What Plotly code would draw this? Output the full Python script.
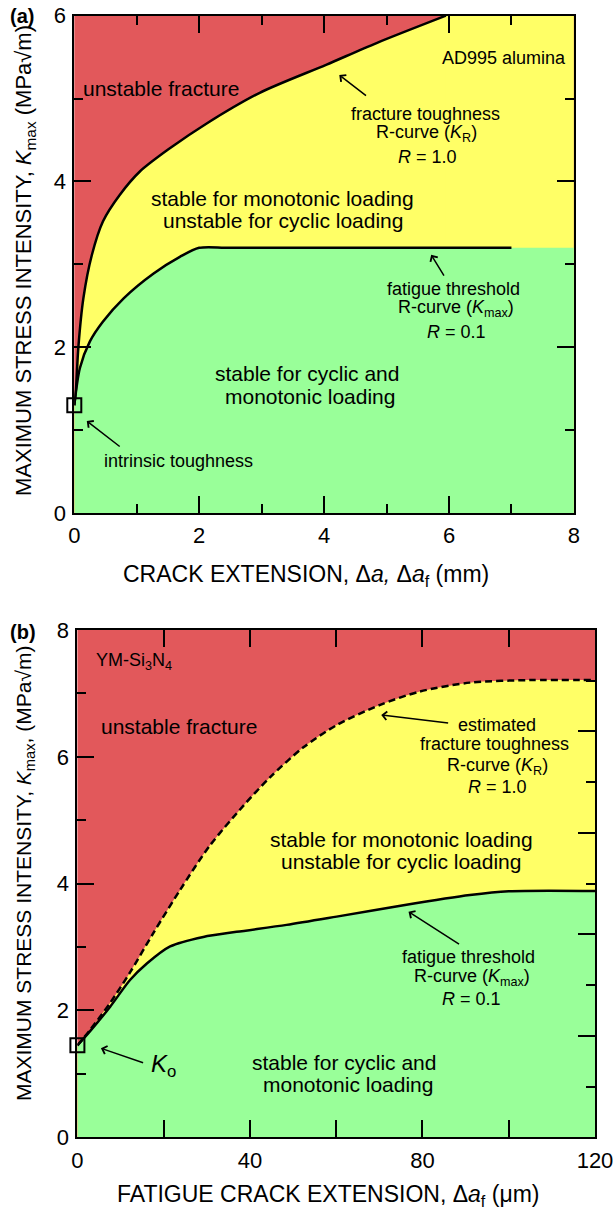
import plotly.graph_objects as go

# ---------------- data ----------------
# Panel (a): AD995 alumina, crack extension in mm
ra_x = [0, 0.027, 0.064, 0.145, 0.28, 0.46, 0.73, 1.05, 1.53, 2.12, 2.97, 4.04, 4.84, 5.95]
ra_k = [1.30, 1.50, 1.99, 2.59, 3.11, 3.52, 3.84, 4.12, 4.40, 4.70, 5.07, 5.41, 5.67, 6.00]
fa_x = [0, 0.09, 0.25, 0.46, 0.79, 1.27, 1.69, 2.0, 2.5, 7.0]
fa_k = [1.30, 1.75, 2.07, 2.31, 2.59, 2.89, 3.09, 3.20, 3.20, 3.20]
a_k0 = [1.30]
a_x0 = [0]

# Panel (b): YM-Si3N4, fatigue crack extension in um
rb_x = [0, 2.9, 7.6, 12.2, 17.6, 23.8, 30.7, 38.5, 44.7, 52.4, 60.1, 70.2, 79.4, 91.0, 105, 120]
rb_k = [1.45, 1.69, 2.12, 2.60, 3.22, 3.90, 4.60, 5.23, 5.68, 6.15, 6.50, 6.82, 7.03, 7.17, 7.21, 7.21]
fb_x = [0, 2.9, 7.6, 12.2, 16.1, 21.5, 29.2, 36.9, 48.5, 60.1, 75.6, 91.0, 100, 120]
fb_k = [1.45, 1.67, 2.06, 2.48, 2.74, 3.01, 3.16, 3.24, 3.35, 3.48, 3.66, 3.82, 3.88, 3.885]
b_k0 = [1.45]
b_x0 = [0]

a_xrange = [0, 8]
a_yrange = [0, 6]
b_xrange = [0, 120]
b_yrange = [0, 8]

# ---------------- styles ----------------
RED = "#E2585B"
YEL = "#FFFF66"
GRN = "#99FF99"
FONT = "Liberation Sans, Arial, Helvetica, sans-serif"
W, H = 613, 1212

fig = go.Figure()

def fill(x, y, color, xa, ya, shape="spline"):
    fig.add_trace(go.Scatter(x=x, y=y, mode="lines", fill="tozeroy", fillcolor=color,
                             line=dict(width=0, shape=shape, smoothing=0.8),
                             xaxis=xa, yaxis=ya, hoverinfo="skip"))

def curve(x, y, xa, ya, dash="solid"):
    fig.add_trace(go.Scatter(x=x, y=y, mode="lines",
                             line=dict(color="black", width=2.5, shape="spline", smoothing=0.8, dash=dash),
                             xaxis=xa, yaxis=ya, hoverinfo="skip"))

# panel (a)
fill([ra_x[-1] - 0.05, a_xrange[1]], [a_yrange[1], a_yrange[1]], YEL, "x", "y", shape="linear")
fill(ra_x, ra_k, YEL, "x", "y")
fill(fa_x + [a_xrange[1]], fa_k + [fa_k[-1]], GRN, "x", "y")
curve(ra_x, ra_k, "x", "y")
curve(fa_x, fa_k, "x", "y")
fig.add_trace(go.Scatter(x=a_x0, y=a_k0, mode="markers", cliponaxis=False,
                         marker=dict(symbol="square-open", size=14, color="black", line=dict(width=2)),
                         xaxis="x", yaxis="y"))

# panel (b)
fill(rb_x, rb_k, YEL, "x2", "y2")
fill(fb_x, fb_k, GRN, "x2", "y2")
curve(rb_x, rb_k, "x2", "y2", dash="7px,4px")
curve(fb_x, fb_k, "x2", "y2")
fig.add_trace(go.Scatter(x=b_x0, y=b_k0, mode="markers", cliponaxis=False,
                         marker=dict(symbol="square-open", size=14, color="black", line=dict(width=2)),
                         xaxis="x2", yaxis="y2"))
# anchor trace for the right-hand tick axis of panel (b)
fig.add_trace(go.Scatter(x=b_x0, y=b_k0, mode="markers", marker=dict(opacity=0),
                         xaxis="x2", yaxis="y3", hoverinfo="skip"))

def px_dom(a, b, total):
    return [a / total, b / total]

tickfont = dict(family=FONT, size=22, color="black")
common = dict(ticks="inside", ticklen=17, tickwidth=1.5, tickcolor="black",
              showline=True, linewidth=2, linecolor="black", showgrid=False, zeroline=False,
              tickfont=tickfont, fixedrange=True, automargin=False, ticklabeloverflow="allow")
minor = dict(ticks="inside", ticklen=9, tickwidth=1.5, tickcolor="black", showgrid=False)

fig.update_layout(
    width=W, height=H, margin=dict(l=0, r=0, t=0, b=0, autoexpand=False),
    paper_bgcolor="white", plot_bgcolor=RED, showlegend=False,
    font=dict(family=FONT, color="black"),
    xaxis=dict(domain=px_dom(74.3, 573.9, W), anchor="y", range=a_xrange, dtick=2, tick0=0,
               mirror="allticks", minor=dict(dtick=1, **minor), ticklabelstandoff=2, **common),
    yaxis=dict(domain=[1 - 513 / H, 1 - 15.7 / H], anchor="x", range=a_yrange, dtick=2, tick0=0,
               mirror="allticks", minor=dict(dtick=1, **minor), ticklabelstandoff=2, **common),
    xaxis2=dict(domain=px_dom(77.4, 595, W), anchor="y2", range=b_xrange, dtick=40, tick0=0,
                mirror="allticks", minor=dict(dtick=20, **minor), ticklabelstandoff=2, **common),
    yaxis2=dict(domain=[1 - 1137.3 / H, 1 - 630 / H], anchor="x2", range=b_yrange, dtick=2, tick0=0,
                mirror=True, minor=dict(dtick=1, **minor), ticklabelstandoff=2, **common),
    yaxis3=dict(overlaying="y2", anchor="x2", side="right", range=b_yrange, tick0=0, dtick=1.6,
                ticks="inside", ticklen=17, tickwidth=1.5, tickcolor="black", showticklabels=False,
                showline=False, showgrid=False, zeroline=False, fixedrange=True, automargin=False,
                minor=dict(dtick=0.8, **minor)),
)

ann = []

def txt(text, x, y, size, xref="x", yref="y", xanchor="center", **kw):
    ann.append(dict(text=text, x=x, y=y, xref=xref, yref=yref, showarrow=False,
                    xanchor=xanchor, yanchor="middle",
                    font=dict(family=FONT, size=size, color="black"), **kw))

def arrow(hx, hy, tx, ty, xref="x", yref="y"):
    ann.append(dict(text="", x=hx, y=hy, ax=tx, ay=ty, xref=xref, yref=yref,
                    axref=xref, ayref=yref, showarrow=True, arrowhead=4, arrowsize=1.1,
                    arrowwidth=1.5, arrowcolor="black"))

# panel (a) texts
txt("unstable fracture", 1.388, 5.119, 21)
txt("AD995 alumina", 7.899, 5.493, 18, xanchor="right")
txt("fracture toughness", 5.616, 4.817, 18)
txt("R-curve (<i>K</i><sub>R</sub>)", 5.64, 4.576, 18)
txt("<i>R</i> = 1.0", 5.659, 4.298, 18)
txt("stable for monotonic loading", 3.327, 3.791, 21)
txt("unstable for cyclic loading", 3.337, 3.525, 21)
txt("fatigue threshold", 6.078, 2.704, 18)
txt("R-curve (<i>K</i><sub>max</sub>)", 6.119, 2.463, 18)
txt("<i>R</i> = 0.1", 6.113, 2.185, 18)
txt("stable for cyclic and", 3.728, 1.678, 21)
txt("monotonic loading", 3.774, 1.400, 21)
txt("intrinsic toughness", 1.661, 0.628, 18)
arrow(4.243, 5.284, 4.695, 5.022)
arrow(5.715, 3.115, 5.934, 2.846)
arrow(0.200, 1.111, 0.751, 0.788)

# panel (b) texts
txt("YM-Si<sub>3</sub>N<sub>4</sub>", 3.8, 7.497, 18, xref="x2", yref="y2", xanchor="left")
txt("unstable fracture", 23.6, 6.471, 21, xref="x2", yref="y2")
txt("estimated", 97.26, 6.503, 18, xref="x2", yref="y2")
txt("fracture toughness", 96.67, 6.202, 18, xref="x2", yref="y2")
txt("R-curve (<i>K</i><sub>R</sub>)", 97.33, 5.855, 18, xref="x2", yref="y2")
txt("<i>R</i> = 1.0", 97.4, 5.529, 18, xref="x2", yref="y2")
txt("stable for monotonic loading", 75.05, 4.704, 21, xref="x2", yref="y2")
txt("unstable for cyclic loading", 75.05, 4.346, 21, xref="x2", yref="y2")
txt("fatigue threshold", 90.73, 2.848, 18, xref="x2", yref="y2")
txt("R-curve (<i>K</i><sub>max</sub>)", 91.41, 2.523, 18, xref="x2", yref="y2")
txt("<i>R</i> = 0.1", 91.28, 2.176, 18, xref="x2", yref="y2")
txt("stable for cyclic and", 61.9, 1.177, 21, xref="x2", yref="y2")
txt("monotonic loading", 62.72, 0.825, 21, xref="x2", yref="y2")
txt("<i>K</i><sub>o</sub>", 19.85, 1.14, 24, xref="x2", yref="y2")
arrow(70.44, 6.659, 86.30, 6.529, "x2", "y2")
arrow(76.77, 3.558, 88.83, 3.033, "x2", "y2")
arrow(5.45, 1.404, 15.58, 1.167, "x2", "y2")

# panel labels and axis titles (paper coordinates)
def ptxt(text, px, py, size, angle=0):
    ann.append(dict(text=text, x=px / W, y=1 - py / H, xref="paper", yref="paper",
                    showarrow=False, xanchor="center", yanchor="middle", textangle=angle,
                    font=dict(family=FONT, size=size, color="black")))

ptxt("<b>(a)</b>", 22, 16, 20)
ptxt("<b>(b)</b>", 23, 632, 20)
ptxt("CRACK EXTENSION, Δ<i>a,</i> Δ<i>a</i><sub>f</sub> (mm)", 306, 575, 23)
ptxt("FATIGUE CRACK EXTENSION, Δ<i>a</i><sub>f</sub> (μm)", 328, 1195, 23)
ptxt("MAXIMUM STRESS INTENSITY, <i>K</i><sub>max</sub> (MPa√m)", 25, 261, 22, angle=-90)
ptxt("MAXIMUM STRESS INTENSITY, <i>K</i><sub>max</sub>, (MPa√m)", 25, 874, 21, angle=-90)

fig.update_layout(annotations=ann)
fig.write_html("out.html", config={"displayModeBar": False})
